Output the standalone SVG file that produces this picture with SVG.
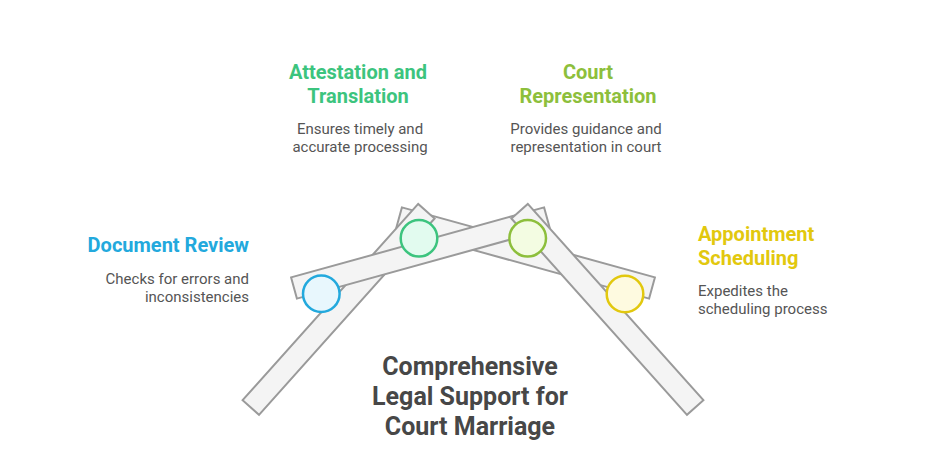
<svg xmlns="http://www.w3.org/2000/svg" width="936" height="455" viewBox="0 0 936 455">
  <style>
    .bar { fill: #f4f4f4; stroke: #9a9a9a; stroke-width: 2; stroke-linejoin: miter; }
    .dot { stroke-width: 2.5; }
    .ttl { font-family: Roboto, "Liberation Sans", sans-serif; font-weight: 700; font-size: 20px; }
    .dsc { font-family: Roboto, "Liberation Sans", sans-serif; font-size: 15px; fill: #555555; }
    .main { font-family: Roboto, "Liberation Sans", sans-serif; font-weight: 700; font-size: 25px; fill: #474747; text-anchor: middle; }
  </style>
  <rect width="936" height="455" fill="#ffffff"/>
  <g id="bars">
    <polygon class="bar" points="401.9,207.4 654.9,277.4 649.1,298.6 396.1,228.6"/>
    <polygon class="bar" points="242.6,400.2 418.2,203.9 434.6,218.5 259,414.8"/>
    <polygon class="bar" points="544.1,207.4 291.1,277.4 296.9,298.6 549.9,228.6"/>
    <polygon class="bar" points="703.4,400.2 527.8,203.9 511.4,218.5 687,414.8"/>
  </g>
  <g id="node-document-review">
    <circle class="dot" cx="321.3" cy="293.8" r="18.3" fill="#e8f7fd" stroke="#23a9dd"/>
    <text class="ttl" x="249" y="252" fill="#23a9dd" text-anchor="end">Document Review</text>
    <text class="dsc" x="249" y="284" text-anchor="end">Checks for errors and</text>
    <text class="dsc" x="249" y="302" text-anchor="end">inconsistencies</text>
  </g>
  <g id="node-attestation">
    <circle class="dot" cx="419" cy="238.3" r="18.3" fill="#e2fbef" stroke="#3cc47e"/>
    <text class="ttl" x="358" y="79" fill="#3cc47e" text-anchor="middle">Attestation and</text>
    <text class="ttl" x="358" y="103" fill="#3cc47e" text-anchor="middle">Translation</text>
    <text class="dsc" x="360" y="134" text-anchor="middle">Ensures timely and</text>
    <text class="dsc" x="360" y="152" text-anchor="middle">accurate processing</text>
  </g>
  <g id="node-court-representation">
    <circle class="dot" cx="527.7" cy="238.3" r="18.3" fill="#f3fce2" stroke="#8dbf3c"/>
    <text class="ttl" x="588" y="79" fill="#8dbf3c" text-anchor="middle">Court</text>
    <text class="ttl" x="588" y="103" fill="#8dbf3c" text-anchor="middle">Representation</text>
    <text class="dsc" x="586" y="134" text-anchor="middle">Provides guidance and</text>
    <text class="dsc" x="586" y="152" text-anchor="middle">representation in court</text>
  </g>
  <g id="node-appointment">
    <circle class="dot" cx="625" cy="294" r="18.3" fill="#fefae0" stroke="#e2c80e"/>
    <text class="ttl" x="698" y="241" fill="#e2c80e">Appointment</text>
    <text class="ttl" x="698" y="265" fill="#e2c80e">Scheduling</text>
    <text class="dsc" x="698" y="296">Expedites the</text>
    <text class="dsc" x="698" y="314">scheduling process</text>
  </g>
  <g id="node-main-title">
    <text class="main" x="470" y="375">Comprehensive</text>
    <text class="main" x="470" y="405">Legal Support for</text>
    <text class="main" x="470" y="435">Court Marriage</text>
  </g>
</svg>
